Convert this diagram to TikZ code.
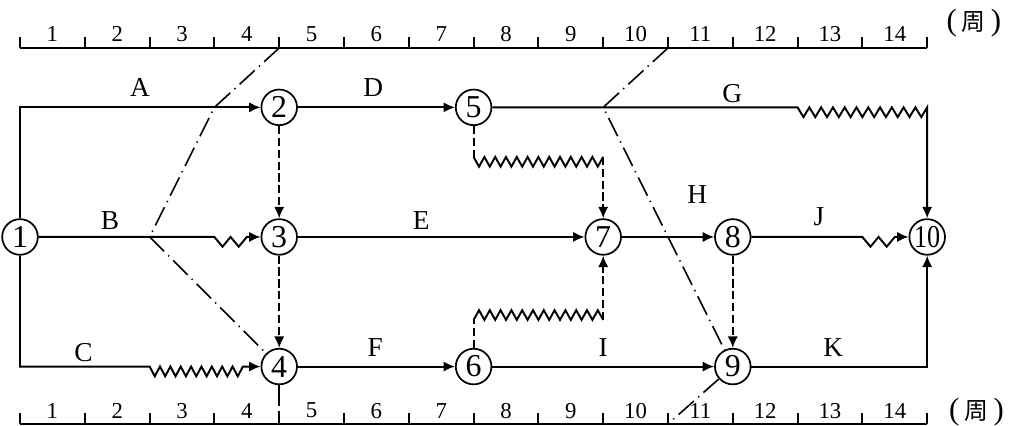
\documentclass[tikz,border=0pt]{standalone}
\usepackage{fontspec}
\setmainfont{Liberation Serif}
\newfontfamily\cjk{Noto Sans CJK SC}
\usetikzlibrary{arrows.meta}

\begin{document}
\begin{tikzpicture}[>={Latex[length=5pt,width=4.5pt]}, line width=0.85pt]
\tikzstyle{event}=[draw, circle, line width=0.75pt, minimum size=5.5mm, inner sep=0, font=\fontsize{14}{16}\selectfont]
\tikzstyle{task}=[inner sep=0, font=\fontsize{12}{14}\selectfont]
\tikzstyle{week}=[inner sep=0, font=\fontsize{10}{12}\selectfont]
\tikzstyle{unit}=[inner sep=0, font=\fontsize{13.5}{15}\selectfont]
\tikzstyle{dummy}=[dash pattern=on 3.6pt off 1.6pt]
\tikzstyle{front line}=[line width=0.7pt, dash pattern=on 9pt off 2.5pt on 0.6pt off 2.5pt]

\useasboundingbox (-0.309,-2.917) rectangle (15.278,3.657);

% time scales
\foreach \i in {0,...,14} {
  \coordinate (top\i) at (\i,2.917);
  \coordinate (bot\i) at (\i,-2.886);
  \draw (top\i) -- ++(0,0.17);
  \draw (bot\i) -- ++(0,0.17);
}
\draw (top0) -- (top14);
\draw (bot0) -- (bot14);
\foreach \i in {1,...,14} {
  \node[week] (wt\i) at (\i-0.5,3.133) {\i};
  \node[week] (wb\i) at (\i-0.5,-2.68) {\i};
}
\node[unit] (unit top) at (14.72,3.30) {(\,{\cjk\fontsize{10.5}{12}\selectfont 周}\,)};
\node[unit] (unit bot) at (14.76,-2.70) {(\,{\cjk\fontsize{10.5}{12}\selectfont 周}\,)};

% events
\node[event] (n1) at (0,0) {1};
\node[event] (n2) at (4,2) {2};
\node[event] (n3) at (4,0) {3};
\node[event] (n4) at (4,-2) {4};
\node[event] (n5) at (7,2) {5};
\node[event] (n6) at (7,-2) {6};
\node[event] (n7) at (9,0) {7};
\node[event] (n8) at (11,0) {8};
\node[event] (n9) at (11,-2) {9};
\node[event] (n10) at (14,0) {\scalebox{0.82}[1]{10}};

% where the wavy lines start
\coordinate (zb) at (3,0);
\coordinate (zc) at (2,-2);
\coordinate (zg) at (12,2);
\coordinate (zj) at (13,0);
\coordinate (z5) at (7,1.235);
\coordinate (z5e) at (9,1.235);
\coordinate (z6) at (7,-1.28);
\coordinate (z6e) at (9,-1.28);

% real activities
\draw[->] (n1) |- (n2);
\draw[->] (n1) -- (zb) foreach \k in {1,2} {-- ++(0.125,-0.15) -- ++(0.125,0.15)} -- (n3);
\draw[->] (n1) |- (zc) foreach \k in {1,...,9} {-- ++(0.08,-0.15) -- ++(0.08,0.15)} -- (n4);
\draw[->] (n2) -- (n5);
\draw[->] (n3) -- (n7);
\draw[->] (n4) -- (n6);
\draw[->] (n5) -- (zg) foreach \k in {1,...,11} {-- ++(0.0909,-0.15) -- ++(0.0909,0.15)} -- (n10);
\draw[->] (n7) -- (n8);
\draw[->] (n6) -- (n9);
\draw[->] (n8) -- (zj) foreach \k in {1,2} {-- ++(0.125,-0.15) -- ++(0.125,0.15)} -- (n10);
\draw[->] (n9) -| (n10);

% dummy activities
\draw[dummy,->] (n2) -- (n3);
\draw[dummy,->] (n3) -- (n4);
\draw[dummy,->] (n8) -- (n9);
\draw[dummy] (n5) -- (z5);
\draw (z5) foreach \k in {1,...,12} {-- ++(0.08333,-0.15) -- ++(0.08333,0.15)};
\draw[dummy,->] (z5e) -- (n7);
\draw[dummy] (n6) -- (z6);
\draw (z6) foreach \k in {1,...,12} {-- ++(0.08333,0.15) -- ++(0.08333,-0.15)};
\draw[dummy,->] (z6e) -- (n7);

% progress lines
\coordinate (p3) at (3,2);
\coordinate (p2) at (2,0);
\coordinate (p9) at (9,2);
\draw[front line] (top4) -- (p3) -- (p2) -- (n4);
\draw[front line] (n4) -- (bot4);
\draw[front line] (top10) -- (p9) -- (n9);
\draw[front line] (n9) -- (bot10);

% activity names
\node[task] (lA) at (1.85,2.30) {A};
\node[task] (lB) at (1.39,0.26) {B};
\node[task] (lC) at (0.98,-1.79) {C};
\node[task] (lD) at (5.45,2.30) {D};
\node[task] (lE) at (6.19,0.26) {E};
\node[task] (lF) at (5.48,-1.71) {F};
\node[task] (lG) at (10.99,2.22) {G};
\node[task] (lH) at (10.45,0.66) {H};
\node[task] (lI) at (9.0,-1.71) {I};
\node[task] (lJ) at (12.33,0.32) {J};
\node[task] (lK) at (12.55,-1.71) {K};
\end{tikzpicture}
\end{document}
